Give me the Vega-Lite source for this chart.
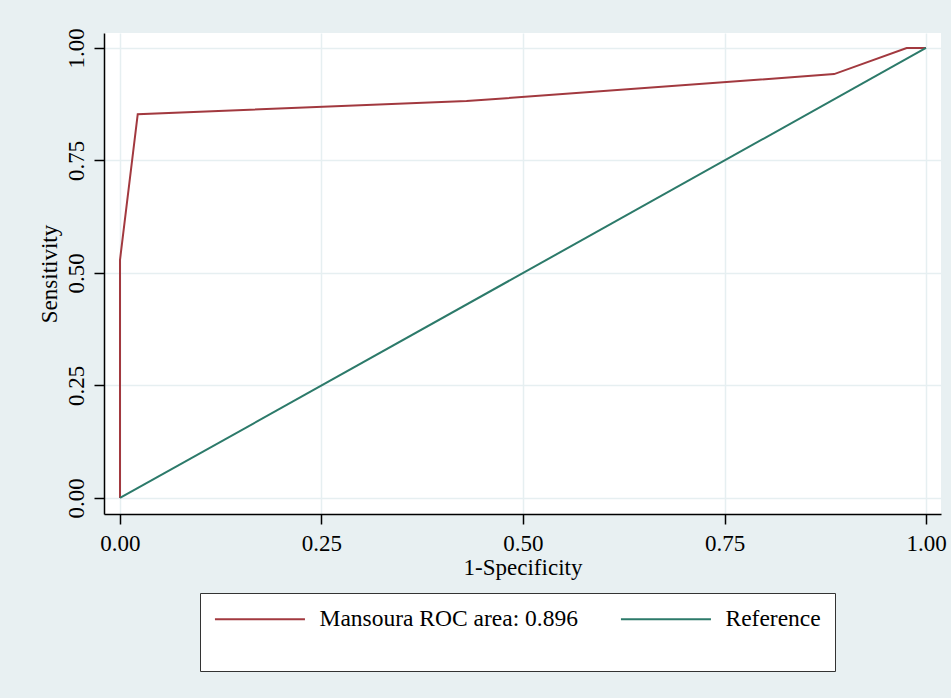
{
  "$schema": "https://vega.github.io/schema/vega-lite/v6.json",
  "width": 837,
  "height": 481,
  "autosize": {"type": "none"},
  "padding": {"left": 104, "top": 33, "right": 10, "bottom": 184},
  "background": "#E8F0F2",
  "config": {"view": {"fill": "white", "stroke": null}, "font": "Liberation Serif"},
  "data": {
    "values": [
      {"series": "Mansoura ROC area: 0.896", "i": 0, "fpr": 0, "tpr": 0},
      {"series": "Mansoura ROC area: 0.896", "i": 1, "fpr": 0, "tpr": 0.529},
      {"series": "Mansoura ROC area: 0.896", "i": 2, "fpr": 0.022, "tpr": 0.853},
      {"series": "Mansoura ROC area: 0.896", "i": 3, "fpr": 0.43, "tpr": 0.882},
      {"series": "Mansoura ROC area: 0.896", "i": 4, "fpr": 0.886, "tpr": 0.942},
      {"series": "Mansoura ROC area: 0.896", "i": 5, "fpr": 0.976, "tpr": 1.0},
      {"series": "Mansoura ROC area: 0.896", "i": 6, "fpr": 1, "tpr": 1},
      {"series": "Reference", "i": 0, "fpr": 0, "tpr": 0},
      {"series": "Reference", "i": 1, "fpr": 1, "tpr": 1}
    ]
  },
  "mark": {"type": "line", "strokeWidth": 2},
  "encoding": {
    "x": {
      "field": "fpr", "type": "quantitative",
      "scale": {"domain": [-0.01985, 1.01861], "nice": false, "zero": false},
      "axis": {
        "title": "1-Specificity", "values": [0, 0.25, 0.5, 0.75, 1], "format": ".2f",
        "labelFontSize": 23, "titleFontSize": 23, "titleFontWeight": "normal",
        "labelColor": "black", "titleColor": "black",
        "domainColor": "black", "domainWidth": 1.5, "tickColor": "black", "tickWidth": 1.5, "tickSize": 10,
        "labelPadding": 8, "titlePadding": 1,
        "grid": true, "gridColor": "#E6EFF1", "gridWidth": 1.5
      }
    },
    "y": {
      "field": "tpr", "type": "quantitative",
      "scale": {"domain": [-0.03556, 1.03333], "nice": false, "zero": false},
      "axis": {
        "title": "Sensitivity", "values": [0, 0.25, 0.5, 0.75, 1], "format": ".2f",
        "labelAngle": -90, "labelFontSize": 23, "titleFontSize": 23, "titleFontWeight": "normal",
        "labelColor": "black", "titleColor": "black",
        "domainColor": "black", "domainWidth": 1.5, "tickColor": "black", "tickWidth": 1.5, "tickSize": 10,
        "labelPadding": 6, "titlePadding": 4,
        "grid": true, "gridColor": "#E6EFF1", "gridWidth": 1.5
      }
    },
    "color": {
      "field": "series", "type": "nominal",
      "scale": {"domain": ["Mansoura ROC area: 0.896", "Reference"], "range": ["#A2393F", "#2C7A6A"]},
      "legend": {
        "orient": "none", "legendX": 96, "legendY": 560,
        "direction": "horizontal", "columns": 2,
        "title": " ", "titleOrient": "bottom", "titleFontSize": 16, "titlePadding": 10,
        "symbolType": "M-1.2,0H8.8", "symbolSize": 324, "symbolStrokeWidth": 2,
        "labelOffset": 82, "labelFontSize": 23.5, "labelColor": "black", "labelLimit": 0,
        "fillColor": "white", "strokeColor": "#333", "padding": 14, "columnPadding": 38
      }
    },
    "order": {"field": "i", "type": "quantitative"}
  }
}
